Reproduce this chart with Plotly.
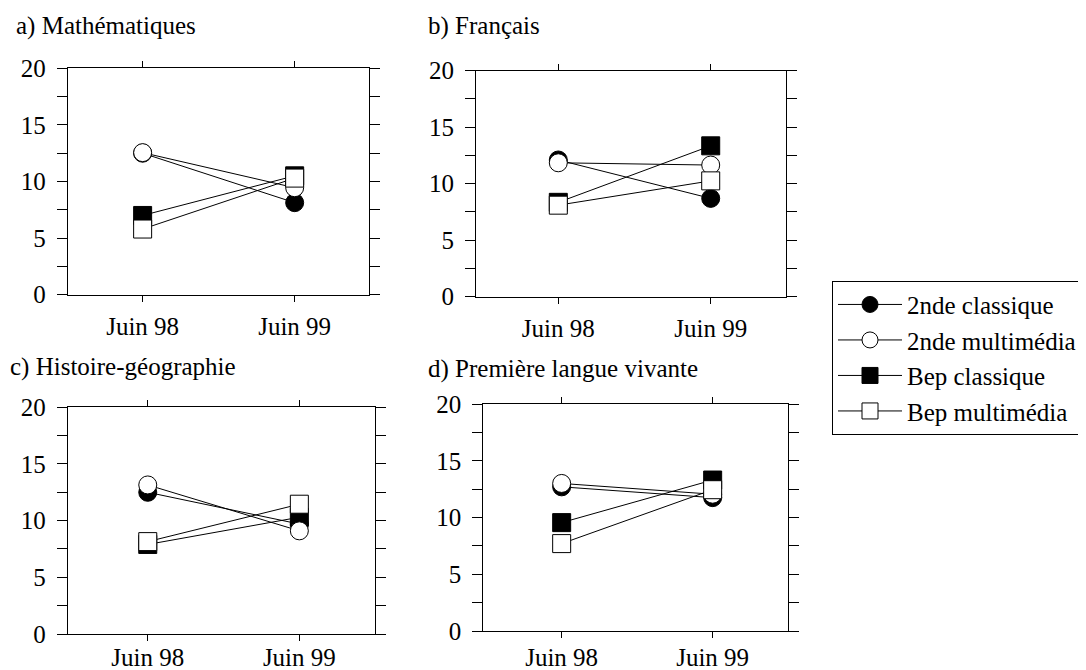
import plotly.graph_objects as go

periods = ["Juin 98", "Juin 99"]
series_names = ["2nde classique", "2nde multimédia", "Bep classique", "Bep multimédia"]
panel_titles = ["a) Mathématiques", "b) Français", "c) Histoire-géographie", "d) Première langue vivante"]

# values per panel: [Juin 98, Juin 99]
math_2nde_classique = [12.5, 8.13]
math_2nde_multimedia = [12.55, 9.45]
math_bep_classique = [7.0, 10.5]
math_bep_multimedia = [5.8, 10.3]

fr_2nde_classique = [12.1, 8.7]
fr_2nde_multimedia = [11.85, 11.65]
fr_bep_classique = [8.35, 13.35]
fr_bep_multimedia = [8.1, 10.25]

hg_2nde_classique = [12.5, 9.7]
hg_2nde_multimedia = [13.15, 9.1]
hg_bep_classique = [7.9, 10.3]
hg_bep_multimedia = [8.15, 11.45]

lv_2nde_classique = [12.7, 11.75]
lv_2nde_multimedia = [13.0, 12.05]
lv_bep_classique = [9.55, 13.3]
lv_bep_multimedia = [7.7, 12.45]

y_tickvals = [0, 2.5, 5, 7.5, 10, 12.5, 15, 17.5, 20]
y_ticktext = ["0", "", "5", "", "10", "", "15", "", "20"]

panels = [
    {"2nde classique": math_2nde_classique, "2nde multimédia": math_2nde_multimedia,
     "Bep classique": math_bep_classique, "Bep multimédia": math_bep_multimedia},
    {"2nde classique": fr_2nde_classique, "2nde multimédia": fr_2nde_multimedia,
     "Bep classique": fr_bep_classique, "Bep multimédia": fr_bep_multimedia},
    {"2nde classique": hg_2nde_classique, "2nde multimédia": hg_2nde_multimedia,
     "Bep classique": hg_bep_classique, "Bep multimédia": hg_bep_multimedia},
    {"2nde classique": lv_2nde_classique, "2nde multimédia": lv_2nde_multimedia,
     "Bep classique": lv_bep_classique, "Bep multimédia": lv_bep_multimedia},
]

OFF = 8  # page body margin
W, H = 1086 - OFF, 670 - OFF
FONT = "Liberation Serif, Times New Roman, serif"
FS = 25

styles = {
    "2nde classique": dict(symbol="circle", color="black"),
    "2nde multimédia": dict(symbol="circle", color="white"),
    "Bep classique": dict(symbol="square", color="black"),
    "Bep multimédia": dict(symbol="square", color="white"),
}
draw_order = ["2nde classique", "Bep classique", "2nde multimédia", "Bep multimédia"]
legend_rank = {n: i for i, n in enumerate(series_names)}

# plot areas in window pixels: (left, right, top, bottom)
areas = [(67.7, 369, 68.3, 294.7), (476, 785.7, 70.7, 296.7),
         (67.7, 375, 407.3, 634), (483.3, 787.7, 404, 631)]
xranges = [[-0.493, 1.489], [-0.54, 1.492], [-0.528, 1.499], [-0.519, 1.497]]
x_standoff = [3, 3, -5, -2]
title_pos = [(14, 26), (426, 26), (8, 367), (426, 369)]


def px_x(v):
    return (v - OFF) / W


def px_y(v):
    return 1 - (v - OFF) / H


fig = go.Figure()
for i, data in enumerate(panels):
    ax = "" if i == 0 else str(i + 1)
    for name in draw_order:
        st = styles[name]
        fig.add_trace(go.Scatter(
            x=periods, y=data[name], mode="lines+markers", name=name,
            xaxis="x" + ax, yaxis="y" + ax,
            line=dict(color="black", width=1),
            marker=dict(symbol=st["symbol"], size=18, color=st["color"],
                        line=dict(color="black", width=1)),
            showlegend=(i == 0), legendrank=legend_rank[name],
            legendgroup=name,
        ))
    l, r, t, b = areas[i]
    fig.layout["xaxis" + ax] = dict(
        domain=[px_x(l), px_x(r)], anchor="y" + ax, type="category",
        range=xranges[i], showline=True, linecolor="black", linewidth=1,
        mirror="ticks", ticks="outside", ticklen=6, tickcolor="black",
        showgrid=False, zeroline=False, ticklabelstandoff=x_standoff[i], automargin=False,
        tickfont=dict(family=FONT, size=FS, color="black"),
    )
    fig.layout["yaxis" + ax] = dict(
        domain=[px_y(b), px_y(t)], anchor="x" + ax, range=[0, 20],
        tickvals=y_tickvals, ticktext=y_ticktext,
        showline=True, linecolor="black", linewidth=1,
        mirror="ticks", ticks="outside", ticklen=10, tickcolor="black",
        showgrid=False, zeroline=False, ticklabelstandoff=6, automargin=False,
        tickfont=dict(family=FONT, size=FS, color="black"),
    )
    tx, ty = title_pos[i]
    fig.add_annotation(text=panel_titles[i], xref="paper", yref="paper",
                       x=px_x(tx), y=px_y(ty), xanchor="left", yanchor="middle",
                       showarrow=False, font=dict(family=FONT, size=FS, color="black"))

fig.update_layout(
    width=W, height=H, margin=dict(l=0, r=0, t=0, b=0, autoexpand=False),
    paper_bgcolor="white", plot_bgcolor="white",
    font=dict(family=FONT, size=FS, color="black"),
    legend=dict(x=px_x(832), y=px_y(280.7), xanchor="left", yanchor="top",
                bordercolor="black", borderwidth=1, bgcolor="white",
                font=dict(family=FONT, size=FS, color="black"),
                tracegroupgap=0, itemwidth=64),
)

fig.write_html("out.html")
